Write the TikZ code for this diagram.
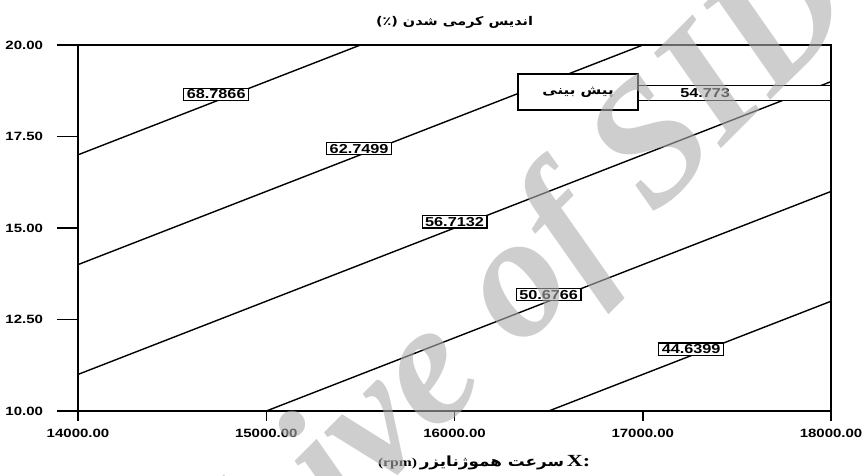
\documentclass[tikz,border=0pt]{standalone}
\usepackage{fontspec}
\setmainfont{Liberation Sans}
\newfontfamily\numfont[FakeStretch=1.25]{Liberation Sans}
\newfontfamily\farsi[Script=Arabic,FakeStretch=1.2]{DejaVu Sans}
\newfontfamily\serifx[FakeStretch=1.3]{Liberation Serif}
\newfontfamily\wmfont{Liberation Serif}
\TeXXeTstate=1
\tikzset{
  ticklab/.style={font=\numfont\bfseries\fontsize{12}{12}\selectfont},
  levlab/.style={draw,fill=white,line width=1.2pt,inner xsep=3pt,inner ysep=1.5pt,
    font=\numfont\bfseries\fontsize{13}{13}\selectfont},
  contour/.style={line width=1.4pt}
}
\begin{document}
\begin{tikzpicture}[x=188.25pt,y=36.6pt]
\useasboundingbox (13.5857,8.251) rectangle (18.1753,21.23);
\begin{scope}
\clip (14,10) rectangle (18,20);
\foreach \c in {17,14,11,8,5} \draw[contour] (14,\c) -- (18,\c+8);
\end{scope}
\node[levlab] (lev1) at (14.734,18.65) {68.7866};
\node[levlab] (lev2) at (15.493,17.17) {62.7499};
\node[levlab] (lev3) at (16.000,15.17) {56.7132};
\node[levlab] (lev4) at (16.500,13.18) {50.6766};
\node[levlab] (lev5) at (17.257,11.69) {44.6399};
% prediction
\node[draw,fill=white,line width=2pt,minimum width=120pt,minimum height=36pt,
  font=\farsi\bfseries\fontsize{12.5}{12.5}\selectfont] (pred) at (16.656,18.716) {\beginR پیش بینی\endR};
\coordinate (bt) at (18,18.907);
\coordinate (bb) at (18,18.497);
\fill[white] (pred.east |- bb) rectangle (bt);
\draw[line width=1pt] (pred.east |- bt) -- (bt) (pred.east |- bb) -- (bb);
\node[font=\numfont\bfseries\fontsize{13}{13}\selectfont] (predval) at (17.331,18.689) {54.773};
% axes
\draw[line width=1.8pt] (14,10) rectangle (18,20);
\foreach \y in {10.00,12.50,15.00,17.50,20.00}
  \draw[line width=1.5pt] (14,\y) -- (13.8885,\y) node[left=10pt,ticklab] {\y};
\foreach \x in {14,...,18}
  \draw[line width=1.5pt] (\x,10) -- (\x,9.727) node[ticklab,below=4pt] {\x000.00};
\node[font=\farsi\bfseries\fontsize{12}{12}\selectfont] (title) at (16,20.63) {\beginR اندیس کرمی شدن (٪)\endR};
\node (xlab) at (16.157,8.579) {{\serifx\bfseries\fontsize{12}{12}\selectfont (rpm)}
  {\farsi\bfseries\fontsize{14}{14}\selectfont\beginR سرعت هموژنایزر\endR}
  {\serifx\bfseries\fontsize{17}{17}\selectfont X:}};
\node[rotate=45,text=black!32,opacity=0.6,font=\wmfont\bfseries\itshape\fontsize{175}{175}\selectfont]
  (wm) at (15.95,11.26) {Archive of SID};
\end{tikzpicture}
\end{document}
